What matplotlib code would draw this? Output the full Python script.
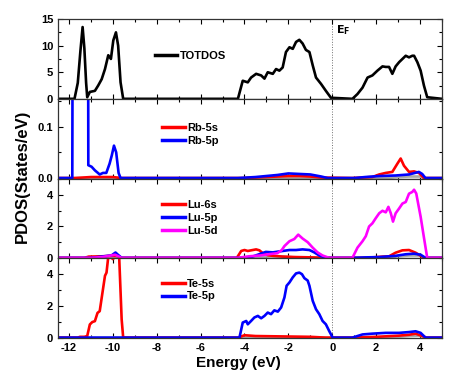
import matplotlib
matplotlib.use("Agg")
import matplotlib.pyplot as plt
from matplotlib.ticker import MultipleLocator, FormatStrFormatter

plt.rcParams['font.family'] = ['Liberation Sans', 'DejaVu Sans']
plt.rcParams['font.weight'] = 'bold'
plt.rcParams['axes.unicode_minus'] = False

# ---- data ----
tot_x = [-12.5, -11.75, -11.6, -11.48, -11.38, -11.3, -11.22, -11.17, -11.05, -10.82, -10.67,
         -10.51, -10.36, -10.21, -10.09, -9.98, -9.86, -9.76, -9.65, -9.53, -4.3, -4.08, -3.85,
         -3.7, -3.47, -3.24, -3.09, -2.94, -2.71, -2.56, -2.41, -2.26, -2.11, -1.95, -1.8, -1.65,
         -1.5, -1.35, -1.2, -1.04, -0.89, -0.74, -0.51, -0.29, -0.06, 0.92, 1.15, 1.38, 1.61,
         1.83, 2.06, 2.29, 2.44, 2.59, 2.74, 2.89, 3.05, 3.2, 3.35, 3.5, 3.65, 3.73, 3.88, 4.03,
         4.18, 4.33, 5.0]
tot_y = [0, 0, 3.0, 9.0, 13.5, 9.5, 3.0, 0.3, 1.3, 1.5, 2.5,
         3.7, 5.6, 8.2, 7.5, 11.0, 12.5, 10.0, 3.1, 0, 0, 3.4, 3.1,
         4.0, 4.7, 4.4, 3.8, 5.0, 4.7, 5.6, 5.3, 5.9, 8.8, 9.7, 9.4, 10.7,
         11.1, 10.4, 9.2, 8.8, 6.3, 4.0, 2.8, 1.5, 0.2, 0, 0.9, 2.1, 4.0,
         4.4, 5.3, 6.1, 6.0, 6.0, 4.7, 6.1, 6.9, 7.5, 8.1, 7.8, 8.1, 8.1, 6.9, 5.3,
         2.5, 0.3, 0]

rb5s_x = [-12.5, -11.75, -11.0, -10.0, -9.6, -4.0, -3.0, -2.0, -1.5, -1.0, -0.5, 0.9, 1.83,
          2.14, 2.44, 2.74, 2.97, 3.12, 3.27, 3.5, 3.73, 3.95, 4.18, 5.0]
rb5s_y = [0, 0, 0.002, 0.002, 0, 0, 0.002, 0.004, 0.004, 0.003, 0.001, 0, 0.002,
          0.007, 0.010, 0.012, 0.028, 0.038, 0.024, 0.012, 0.013, 0.010, 0, 0]
rb5p_x = [-12.5, -11.85, -11.75, -11.18, -11.12, -10.97, -10.82, -10.6, -10.45, -10.3, -10.15,
          -10.05, -9.95, -9.85, -9.74, -9.65, -4.3, -3.5, -2.5, -2.0, -1.5, -1.0, -0.5, -0.2,
          1.0, 1.5, 2.14, 2.89, 3.5, 3.95, 4.1, 4.25, 5.0]
rb5p_y = [0, 0, 2.0, 2.0, 0.025, 0.022, 0.015, 0.007, 0.010, 0.010, 0.028,
          0.044, 0.063, 0.05, 0.01, 0, 0, 0.002, 0.006, 0.009, 0.008, 0.007, 0.003, 0,
          0, 0.002, 0.004, 0.005, 0.007, 0.012, 0.008, 0, 0]
rb_gray_x = [-12.5, 2.5, 3.0, 3.5, 4.0, 4.2, 5.0]
rb_gray_y = [0, 0, 0.002, 0.003, 0.003, 0, 0]

lu6s_x = [-12.5, -11.3, -11.1, -10.5, -10.0, -9.8, -9.6, -4.35, -4.15, -4.0, -3.85, -3.7, -3.47,
          -3.32, -3.17, -2.94, -2.71, -2.26, -1.65, -0.9, -0.3, 1.5, 1.83, 2.29, 2.59, 2.89,
          3.2, 3.5, 3.8, 4.03, 4.2, 5.0]
lu6s_y = [0, 0, 0.08, 0.1, 0.13, 0.12, 0, 0, 0.44, 0.5, 0.44, 0.48, 0.54,
          0.48, 0.3, 0.17, 0.13, 0.08, 0.05, 0.03, 0, 0, 0.03, 0.08, 0.1, 0.33,
          0.48, 0.5, 0.33, 0.13, 0, 0]
lu5p_x = [-12.5, -11.0, -10.7, -10.06, -9.88, -9.77, -9.6, -4.2, -3.7, -3.03, -2.71, -2.26,
          -1.95, -1.65, -1.35, -1.04, -0.82, -0.59, -0.29, 0.9, 1.5, 2.14, 2.89, 3.35, 3.73,
          4.03, 4.25, 5.0]
lu5p_y = [0, 0, 0.05, 0.16, 0.34, 0.2, 0, 0, 0.05, 0.38, 0.35, 0.44,
          0.5, 0.5, 0.54, 0.5, 0.35, 0.15, 0, 0, 0.03, 0.05, 0.13, 0.23, 0.27,
          0.2, 0, 0]
lu5d_x = [-12.5, -11.0, -10.5, -10.1, -9.9, -9.6, -4.3, -3.8, -3.3, -2.8, -2.5, -2.3, -2.18,
          -1.95, -1.73, -1.55, -1.35, -1.12, -0.89, -0.67, -0.44, -0.14, 0.92, 1.15, 1.38,
          1.53, 1.68, 1.83, 1.98, 2.14, 2.29, 2.44, 2.56, 2.67, 2.77, 2.89, 3.05, 3.2, 3.35,
          3.5, 3.65, 3.73, 3.83, 4.03, 4.18, 4.33, 5.0]
lu5d_y = [0, 0, 0.05, 0.15, 0.2, 0, 0, 0.1, 0.15, 0.25, 0.3, 0.5, 0.75,
          1.06, 1.2, 1.48, 1.23, 1.0, 0.65, 0.35, 0.15, 0, 0, 0.65, 1.06,
          1.38, 2.0, 2.2, 2.52, 2.84, 3.0, 2.9, 3.25, 2.84, 2.31, 2.84, 3.15, 3.46, 3.56,
          4.09, 4.2, 4.34, 4.1, 2.62, 1.3, 0, 0]
lu_gray_x = [-12.5, -3.8, -3.3, -2.8, -2.2, -1.5, 2.5, 3.0, 3.5, 4.0, 4.25, 5.0]
lu_gray_y = [0, 0, 0.05, 0.1, 0.08, 0, 0, 0.1, 0.15, 0.15, 0, 0]

te5s_x = [-12.5, -11.6, -11.5, -11.3, -11.17, -11.05, -10.94, -10.82, -10.7, -10.6, -10.5,
          -10.36, -10.29, -10.21, -10.1, -10.0, -9.9, -9.78, -9.71, -9.6, -9.53, -4.3, -4.0,
          -3.5, -2.5, -1.0, -0.3, 1.0, 2.0, 3.0, 3.5, 3.8, 4.1, 4.3, 5.0]
te5s_y = [0, 0, 0.05, 0.05, 0.1, 0.83, 0.98, 1.04, 1.56, 1.67, 2.6,
          3.9, 4.1, 5.1, 5.1, 4.95, 5.1, 5.1, 5.0, 1.15, 0, 0, 0.15,
          0.1, 0.08, 0.05, 0, 0, 0.05, 0.12, 0.18, 0.25, 0.1, 0, 0]
te5p_x = [-12.5, -4.23, -4.08, -3.92, -3.85, -3.7, -3.55, -3.39, -3.24, -3.09, -2.94, -2.79,
          -2.64, -2.48, -2.33, -2.18, -2.08, -1.95, -1.8, -1.65, -1.5, -1.38, -1.27, -1.12,
          -1.04, -0.89, -0.74, -0.59, -0.44, -0.29, -0.14, 0.02, 0.92, 1.38, 1.83, 2.44,
          3.05, 3.5, 3.8, 4.03, 4.25, 5.0]
te5p_y = [0, 0, 0.95, 1.05, 0.84, 1.05, 1.27, 1.37, 1.22, 1.37, 1.58, 1.48,
          1.72, 1.64, 1.9, 2.53, 3.27, 3.48, 3.8, 4.05, 4.1, 4.0, 3.75, 3.6,
          3.27, 2.32, 1.79, 1.48, 1.05, 0.84, 0.42, 0, 0, 0.2, 0.25, 0.3,
          0.3, 0.35, 0.4, 0.3, 0, 0]
te_gray_x = [-12.5, 2.5, 3.0, 3.5, 4.0, 4.2, 5.0]
te_gray_y = [0, 0, 0.05, 0.1, 0.12, 0, 0]

RED, BLUE, MAG, GRAY = '#ff0000', '#0000ff', '#ff00ff', '#a8a8a8'
LW = 1.9

fig = plt.figure(figsize=(4.57, 3.74), dpi=100)
axes = fig.subplots(4, 1, sharex=True, gridspec_kw={'hspace': 0})
fig.subplots_adjust(left=0.127, right=0.967, top=0.949, bottom=0.096)
ax1, ax2, ax3, ax4 = axes

ax1.plot(tot_x, tot_y, color='black', lw=LW, label='TOTDOS')
ax1.set_ylim(0, 15)
ax1.yaxis.set_major_locator(MultipleLocator(5))
ax1.yaxis.set_minor_locator(MultipleLocator(2.5))

ax2.plot(rb_gray_x, rb_gray_y, color=GRAY, lw=LW)
ax2.plot(rb5s_x, rb5s_y, color=RED, lw=LW, label='Rb-5s')
ax2.plot(rb5p_x, rb5p_y, color=BLUE, lw=LW, label='Rb-5p')
ax2.set_ylim(-0.001, 0.154)
ax2.yaxis.set_major_locator(MultipleLocator(0.1))
ax2.yaxis.set_minor_locator(MultipleLocator(0.05))
ax2.yaxis.set_major_formatter(FormatStrFormatter('%.1f'))

ax3.plot(lu_gray_x, lu_gray_y, color=GRAY, lw=LW)
ax3.plot(lu6s_x, lu6s_y, color=RED, lw=LW, label='Lu-6s')
ax3.plot(lu5p_x, lu5p_y, color=BLUE, lw=LW, label='Lu-5p')
ax3.plot(lu5d_x, lu5d_y, color=MAG, lw=LW, label='Lu-5d')
ax3.set_ylim(-0.03, 5.05)
ax3.yaxis.set_major_locator(MultipleLocator(2))
ax3.yaxis.set_minor_locator(MultipleLocator(1))

ax4.plot(te_gray_x, te_gray_y, color=GRAY, lw=LW)
ax4.plot(te5s_x, te5s_y, color=RED, lw=LW, label='Te-5s')
ax4.plot(te5p_x, te5p_y, color=BLUE, lw=LW, label='Te-5p')
ax4.set_ylim(-0.03, 5.0)
ax4.yaxis.set_major_locator(MultipleLocator(2))
ax4.yaxis.set_minor_locator(MultipleLocator(1))

legend_pos = [(0.253, 0.54), (0.272, 0.556), (0.272, 0.504), (0.272, 0.603)]
for ax, pos in zip(axes, legend_pos):
    ax.axvline(0, color='#707070', lw=0.7, ls=':', zorder=0)
    ax.set_xlim(-12.5, 5)
    ax.xaxis.set_major_locator(MultipleLocator(2))
    ax.xaxis.set_minor_locator(MultipleLocator(1))
    ax.tick_params(which='both', direction='in', top=True, right=True, labelsize=8, width=0.8)
    ax.tick_params(which='major', length=3.5)
    ax.tick_params(which='minor', length=2)
    for sp in ax.spines.values():
        sp.set_linewidth(0.9)
        sp.set_color('#333333')
    leg = ax.legend(loc='center left', bbox_to_anchor=pos, frameon=False, fontsize=8,
                    borderpad=0, borderaxespad=0, handlelength=2.0, handletextpad=0.2,
                    labelspacing=0.25)
    for h in leg.get_lines():
        h.set_linewidth(2.5)

ax1.text(0.15, 0.86, r'$\mathbf{E_F}$', fontsize=8, ha='left', va='center',
         transform=ax1.get_xaxis_transform())

fig.text(0.521, 0.03, 'Energy (eV)', fontsize=11, fontweight='bold', ha='center', va='center')
fig.text(0.049, 0.529, 'PDOS(States/eV)', rotation=90, fontsize=12, fontweight='bold',
         ha='center', va='center')

fig.savefig('out.png', dpi=100)
